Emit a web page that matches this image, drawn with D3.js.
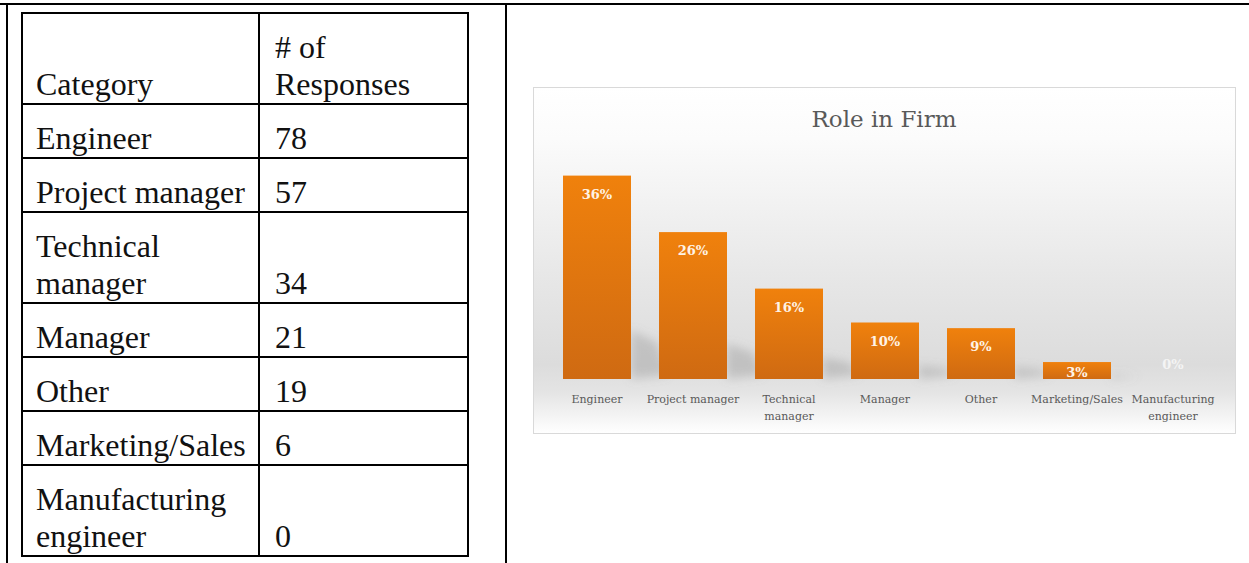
<!DOCTYPE html>
<html>
<head>
<meta charset="utf-8">
<script src="https://cdn.jsdelivr.net/npm/d3@7"></script>
<style>
  html, body { margin: 0; padding: 0; background: #fff; }
  svg { display: block; }
</style>
</head>
<body>
<div class="page"></div>
<script>
// data
const categories = ["Engineer", "Project manager", "Technical manager", "Manager", "Other", "Marketing/Sales", "Manufacturing engineer"];
const categoryLines = [["Engineer"], ["Project manager"], ["Technical", "manager"], ["Manager"], ["Other"], ["Marketing/Sales"], ["Manufacturing", "engineer"]];
const responses = [78, 57, 34, 21, 19, 6, 0];
const shares = [0.36, 0.26, 0.16, 0.10, 0.09, 0.03, 0];
const headerLines = [["Category"], ["# of", "Responses"]];
const chartTitle = "Role in Firm";

const W = 1249, H = 563;
let svg = d3.select('.page').append('svg').attr('width', W).attr('height', H);
let defs = svg.append('defs');

// page frame (outer table of the document)
svg.append('line').attr('x1', 0).attr('x2', W).attr('y1', 4).attr('y2', 4).attr('stroke', '#000').attr('stroke-width', 2);
svg.append('line').attr('x1', 7).attr('x2', 7).attr('y1', 4).attr('y2', H).attr('stroke', '#000').attr('stroke-width', 2);
svg.append('line').attr('x1', 506).attr('x2', 506).attr('y1', 4).attr('y2', H).attr('stroke', '#000').attr('stroke-width', 2);

// ---- data table on the left
let tbl = svg.append('g').attr('font-family', '"Liberation Serif", "Times New Roman", serif')
    .attr('font-size', 32).attr('fill', '#111');
let rowH = (n) => 54 + 37 * (n - 1);
let rows = [{a: headerLines[0], b: headerLines[1]}]
    .concat(categoryLines.map((l, i) => ({a: l, b: [String(responses[i])]})));
let colX = [22, 259, 468];
let y = 13;
rows.forEach((r) => {
    let n = Math.max(r.a.length, r.b.length);
    r.top = y; r.bottom = y + rowH(n); y = r.bottom;
});
// cell text, bottom aligned
rows.forEach((r) => {
    [[r.a, colX[0] + 14], [r.b, colX[1] + 16]].forEach(([lines, x]) => {
        lines.forEach((t, k) => {
            tbl.append('text')
                .attr('x', x)
                .attr('y', r.bottom - 9 - 37 * (lines.length - 1 - k))
                .text(t);
        });
    });
});
let grid = svg.append('g').attr('stroke', '#000').attr('stroke-width', 2);
[13].concat(rows.map((r) => r.bottom)).forEach((yy) => {
    grid.append('line').attr('x1', colX[0] - 1).attr('x2', colX[2] + 1).attr('y1', yy).attr('y2', yy);
});
colX.forEach((xx) => {
    grid.append('line').attr('x1', xx).attr('x2', xx).attr('y1', 13).attr('y2', y);
});

// ---- bar chart on the right
const box = {x: 533, y: 87, w: 702, h: 346};
let bg = defs.append('linearGradient').attr('id', 'bg').attr('x1', 0).attr('x2', 0).attr('y1', 0).attr('y2', 1);
[[0, '#ffffff'], [0.15, '#fbfbfb'], [0.55, '#e7e7e7'], [0.8, '#dcdcdc'], [0.88, '#e4e4e4'], [1, '#ffffff']]
    .forEach(([o, c]) => bg.append('stop').attr('offset', o).attr('stop-color', c));
let barGrad = defs.append('linearGradient').attr('id', 'bar').attr('x1', 0).attr('x2', 0).attr('y1', 0).attr('y2', 1);
[[0, '#f0810c'], [1, '#cf6a12']].forEach(([o, c]) => barGrad.append('stop').attr('offset', o).attr('stop-color', c));
defs.append('filter').attr('id', 'blur').attr('x', -0.5).attr('y', -0.5).attr('width', 2).attr('height', 2)
    .append('feGaussianBlur').attr('stdDeviation', 5);

let chart = svg.append('g');
chart.append('rect').attr('x', box.x + 0.5).attr('y', box.y + 0.5).attr('width', box.w).attr('height', box.h)
    .attr('fill', 'url(#bg)').attr('stroke', '#d9d9d9');

chart.append('text')
    .attr('x', box.x + box.w / 2).attr('y', 127)
    .attr('text-anchor', 'middle')
    .attr('font-family', '"DejaVu Serif", serif').attr('font-size', 23)
    .attr('fill', '#595959')
    .text(chartTitle);

let xScale = d3.scaleBand().domain(categories).range([549, 1221]).paddingInner(28 / 96).paddingOuter(14 / 96);
let yScale = d3.scaleLinear().domain([0, 0.4]).range([379, 153]);
let data = categories.map((c, i) => ({c: c, lines: categoryLines[i], v: shares[i]}));
let y0 = yScale(0);

// soft shadows thrown back to the right of each bar
chart.append('g').attr('filter', 'url(#blur)')
    .selectAll('path').data(data.filter((d) => d.v > 0)).enter()
    .append('path')
    .attr('d', (d) => {
        let x1 = xScale(d.c) + xScale.bandwidth(), h = y0 - yScale(d.v);
        return d3.line()([[x1, y0], [x1, y0 - 0.24 * h], [x1 + 26, y0 - 0.18 * h], [x1 + 36, y0 - 4]]) + 'Z';
    })
    .attr('fill', '#8a8a8a').attr('opacity', 0.32);

chart.append('g').selectAll('rect').data(data).enter()
    .append('rect')
    .attr('x', (d) => xScale(d.c))
    .attr('y', (d) => yScale(d.v))
    .attr('width', xScale.bandwidth())
    .attr('height', (d) => y0 - yScale(d.v))
    .attr('fill', 'url(#bar)');

let fmt = d3.format('.0%');
chart.append('g').selectAll('text').data(data).enter()
    .append('text')
    .attr('x', (d) => xScale(d.c) + xScale.bandwidth() / 2)
    .attr('y', (d) => {
        let top = yScale(d.v), h = y0 - top;
        return h > 24 ? top + 23 : Math.min(y0 - 2, top + 23) - (h < 4 ? 8 : 0);
    })
    .attr('text-anchor', 'middle')
    .attr('font-family', '"DejaVu Serif", serif').attr('font-weight', 'bold').attr('font-size', 13)
    .attr('fill', (d) => d.v > 0 ? '#fff3e6' : '#f4f4f4')
    .text((d) => fmt(d.v));

// category axis labels
let xl = chart.append('g').selectAll('text').data(data).enter()
    .append('text')
    .attr('text-anchor', 'middle')
    .attr('font-family', '"DejaVu Serif", serif').attr('font-size', 11)
    .attr('fill', '#595959');
xl.selectAll('tspan').data((d) => d.lines.map((t) => ({t: t, c: d.c}))).enter()
    .append('tspan')
    .attr('x', (d) => xScale(d.c) + xScale.bandwidth() / 2)
    .attr('y', (d, k) => 403 + k * 17)
    .text((d) => d.t);
</script>
</body>
</html>
